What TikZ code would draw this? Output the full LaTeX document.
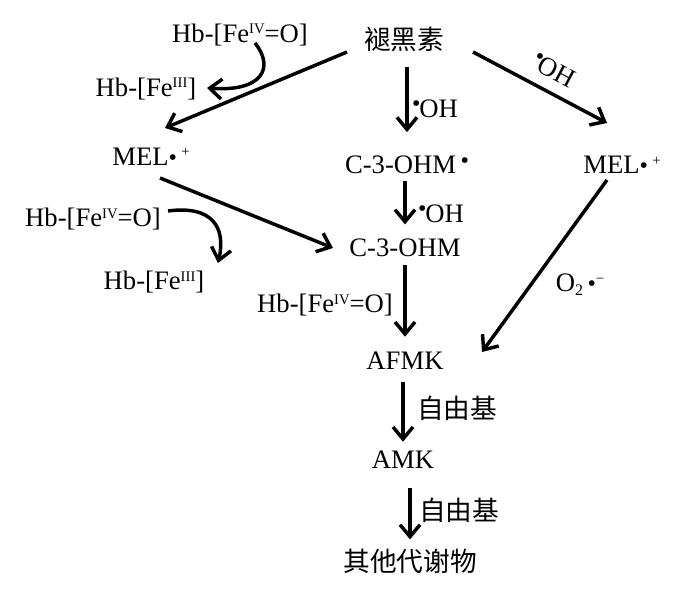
\documentclass[tikz,border=0pt]{standalone}
\usepackage{fontspec}
\setmainfont{Liberation Serif}
\newfontfamily\cjk{Noto Sans CJK SC}
\usetikzlibrary{arrows.meta}
\newcommand{\rad}[1][0pt]{\raisebox{#1}{\fontsize{18}{18}\selectfont •}}
\newcommand{\hi}[1]{\raisebox{6.5pt}{\fontsize{11}{11}\selectfont #1}}
\newcommand{\lo}[1]{\raisebox{-2.5pt}{\fontsize{12}{12}\selectfont #1}}
\newcommand{\feiv}{Hb-[Fe\hi{IV}=O]}
\newcommand{\feiii}{Hb-[Fe\hi{III}]}
\begin{document}
\begin{tikzpicture}[x=0.75pt,y=-0.75pt,
        txt/.style={inner sep=0pt,text height=14pt,text depth=4pt,font=\fontsize{20}{24}\selectfont},
        arr/.style={line width=2.6pt,-{Straight Barb[length=9pt,width=15pt]}}]
    \useasboundingbox (0,0) rectangle (700,592);
    % substances
    \node[txt] (mel) at (404,43) {\cjk 褪黑素};
    \node[txt] (feoA) at (240,36) {\feiv};
    \node[txt] (feA) at (146,90) {\feiii};
    \node[txt] (melL) at (151,159) {MEL\rad\,\hi{+}};
    \node[txt] (ohmA) at (407,167) {C-3-OHM\,\rad[3.6pt]};
    \node[txt] (melR) at (622,167) {MEL\rad\,\hi{+}};
    \node[txt] (feoB) at (93,220) {\feiv};
    \node[txt] (ohmB) at (405,250) {C-3-OHM};
    \node[txt] (feB) at (154,283) {\feiii};
    \node[txt] (feoC) at (325,306) {\feiv};
    \node[txt] (afmk) at (405,363) {AFMK};
    \node[txt] (amk) at (403,462) {AMK};
    \node[txt] (other) at (410,565) {\cjk 其他代谢物};
    % arrow labels
    \node[txt] (ohA) at (435,111) {\rad[4.6pt]\kern-1pt OH};
    \node[txt] (ohB) at (441,216) {\rad[4.6pt]\kern-1pt OH};
    \node[txt,rotate=-28] (ohC) at (553,72) {\rad[4.6pt]\kern-1pt OH};
    \node[txt] (otwo) at (580,285) {O\lo{2}\,\rad\hi{−}};
    \node[txt] (frA) at (457,412) {\cjk 自由基};
    \node[txt] (frB) at (459,514) {\cjk 自由基};
    % main path
    \draw[arr,shorten <=9pt,shorten >=17pt] (ohmA.north |- mel.south) -- (ohmA.north);
    \draw[arr,shorten <=1pt,shorten >=10pt] (ohmB.north |- ohmA.south) -- (ohmB.north);
    \draw[arr,shorten <=2pt,shorten >=10.5pt] (afmk.north |- ohmB.south) -- (afmk.north);
    \draw[arr,shorten <=5pt,shorten >=6pt] (amk.north |- afmk.south) -- (amk.north);
    \draw[arr,shorten <=10pt,shorten >=10pt] (other.north |- amk.south) -- (other.north);
    % side paths
    \draw[arr] ([shift={(-57,9)}]mel.center) -- ([shift={(14,-31)}]melL.center);
    \draw[arr] ([shift={(69,9)}]mel.center) -- ([shift={(-15,-44)}]melR.center);
    \draw[arr] ([shift={(9,19)}]melL.center) -- ([shift={(-72,-2)}]ohmB.center);
    \draw[arr] ([shift={(-15,13)}]melR.center) -- ([shift={(77,-11)}]afmk.center);
    \draw[arr] ([shift={(15,7)}]feoA.center) .. controls +(20,25) and +(55,4) .. ([shift={(61,-2)}]feA.center);
    \draw[arr] ([shift={(75,-9)}]feoB.center) .. controls +(45,-6) and +(8,-35) .. ([shift={(64,-20)}]feB.center);
\end{tikzpicture}
\end{document}
